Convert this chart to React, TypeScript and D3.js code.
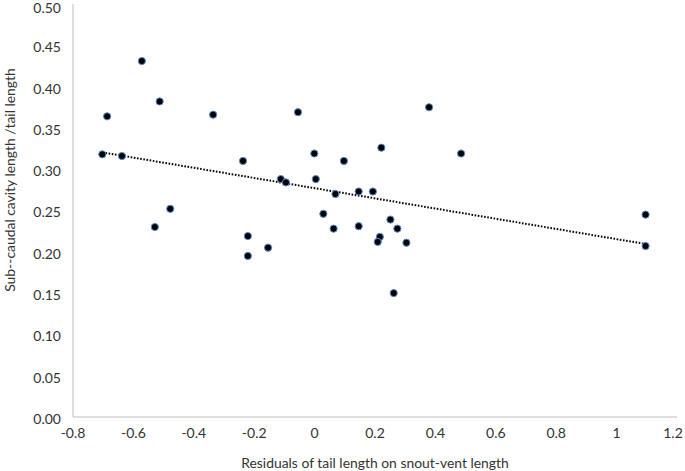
import React, { useEffect, useRef } from 'react';
import * as d3 from 'd3';

// residuals of tail length (x) vs sub-caudal cavity length / tail length (y)
const residuals = [
  -0.572, -0.513, -0.687, -0.336, -0.703, -0.638, -0.478, -0.529,
  -0.055, 0.379, -0.237, -0.001, 0.097, 0.221, 0.485, -0.112,
  -0.095, 0.004, 0.069, 0.146, 0.193, 0.029, 0.063, 0.146,
  0.251, 0.274, 0.216, 0.209, 0.304, -0.221, -0.221, -0.154,
  0.262, 1.096, 1.096,
];
const cavityRatio = [
  0.431, 0.382, 0.364, 0.366, 0.318, 0.316, 0.252, 0.230,
  0.369, 0.375, 0.310, 0.319, 0.310, 0.326, 0.319, 0.288,
  0.284, 0.288, 0.270, 0.273, 0.273, 0.246, 0.228, 0.231,
  0.239, 0.228, 0.218, 0.212, 0.211, 0.219, 0.195, 0.205,
  0.150, 0.245, 0.207,
];
const xTicks = [-0.8, -0.6, -0.4, -0.2, 0, 0.2, 0.4, 0.6, 0.8, 1, 1.2];
const yTicks = [0, 0.05, 0.1, 0.15, 0.2, 0.25, 0.3, 0.35, 0.4, 0.45, 0.5];

const width = 685;
const height = 471;
const font = 'Lato, "Open Sans", sans-serif';

export default function App() {
  const ref = useRef<SVGSVGElement>(null);

  useEffect(() => {
    const svg = d3.select(ref.current);
    svg.selectAll('*').remove();

    const x = d3.scaleLinear().domain([-0.8, 1.2]).range([73, 677]);
    const y = d3.scaleLinear().domain([0, 0.5]).range([417, 4]);

    const points = residuals.map((r, i) => ({ x: r, y: cavityRatio[i] }));

    // least squares trendline
    const mx = d3.mean(points, d => d.x) as number;
    const my = d3.mean(points, d => d.y) as number;
    const sxy = d3.sum(points, d => (d.x - mx) * (d.y - my));
    const sxx = d3.sum(points, d => (d.x - mx) ** 2);
    const slope = sxy / sxx;
    const icpt = my - slope * mx;
    const [x0, x1] = d3.extent(residuals) as [number, number];

    // axis lines
    svg.append('line')
      .attr('x1', x(-0.8)).attr('x2', x(-0.8))
      .attr('y1', y(0.5)).attr('y2', y(0))
      .attr('stroke', '#bfbfbf').attr('stroke-width', 1);
    svg.append('line')
      .attr('x1', x(-0.8)).attr('x2', x(1.2))
      .attr('y1', y(0)).attr('y2', y(0))
      .attr('stroke', '#bfbfbf').attr('stroke-width', 1);

    svg.append('g').selectAll('text')
      .data(yTicks)
      .join('text')
      .attr('x', 61)
      .attr('y', d => Math.max(y(d) + 2, 8))
      .attr('dy', '0.35em')
      .attr('text-anchor', 'end')
      .attr('font-family', font)
      .attr('font-size', 14)
      .attr('fill', '#333')
      .text(d => d3.format('.2f')(d));

    svg.append('g').selectAll('text')
      .data(xTicks)
      .join('text')
      .attr('x', d => Math.min(x(d), 673))
      .attr('y', 433)
      .attr('dy', '0.35em')
      .attr('text-anchor', 'middle')
      .attr('font-family', font)
      .attr('font-size', 14)
      .attr('fill', '#333')
      .text(d => String(d));

    svg.append('text')
      .attr('x', 375)
      .attr('y', 463)
      .attr('dy', '0.35em')
      .attr('text-anchor', 'middle')
      .attr('font-family', font)
      .attr('font-size', 13.9)
      .attr('fill', '#333')
      .text('Residuals of tail length on snout-vent length');

    svg.append('text')
      .attr('transform', 'translate(10,180) rotate(-90)')
      .attr('dy', '0.35em')
      .attr('text-anchor', 'middle')
      .attr('font-family', font)
      .attr('font-size', 13.9)
      .attr('fill', '#333')
      .text('Sub--caudal cavity length /tail length');

    svg.append('line')
      .attr('x1', x(x0)).attr('y1', y(icpt + slope * x0))
      .attr('x2', x(x1)).attr('y2', y(icpt + slope * x1))
      .attr('stroke', '#000')
      .attr('stroke-width', 2)
      .attr('stroke-dasharray', '1.6,1.6');

    svg.append('g').selectAll('circle')
      .data(points)
      .join('circle')
      .attr('cx', d => x(d.x))
      .attr('cy', d => y(d.y))
      .attr('r', 3.6)
      .attr('fill', '#000')
      .attr('stroke', '#5b8fd6')
      .attr('stroke-width', 1);
  }, []);

  return (
    <svg ref={ref} width={width} height={height}
      style={{ position: 'absolute', left: 0, top: 0, background: '#fff' }} />
  );
}
